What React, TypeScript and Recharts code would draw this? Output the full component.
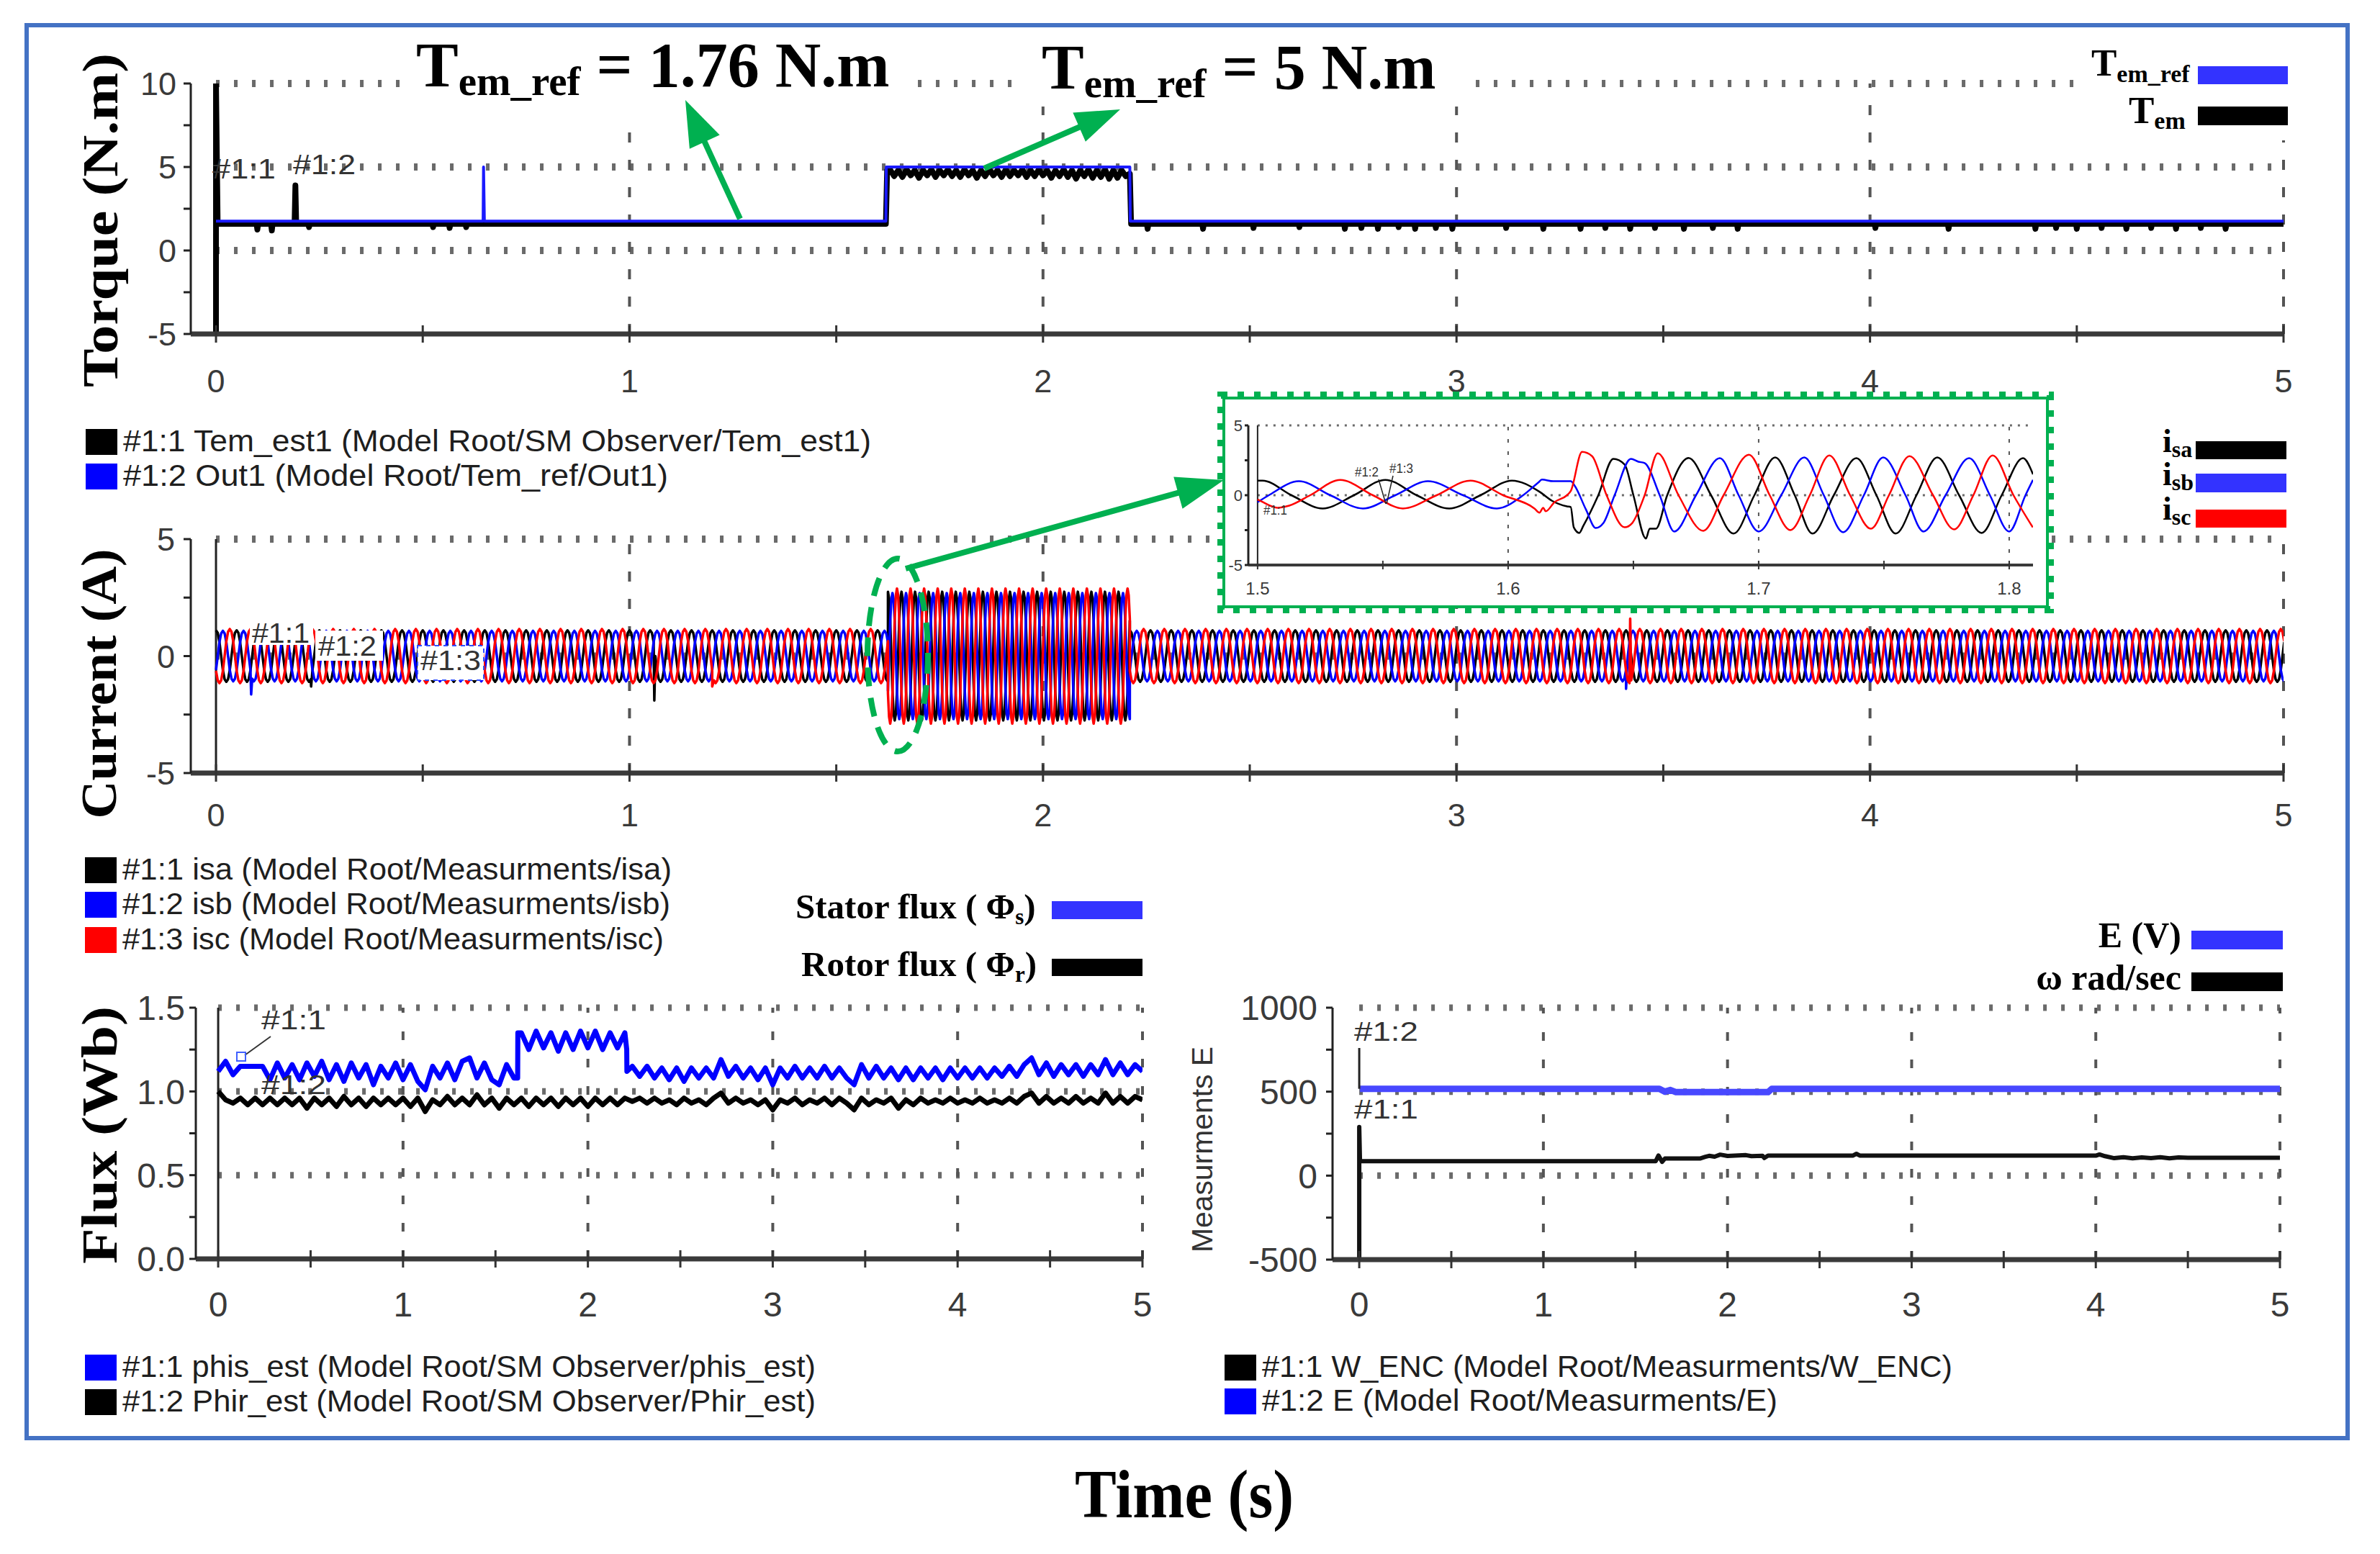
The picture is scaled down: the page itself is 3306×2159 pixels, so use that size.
import React from 'react';
import { LineChart, Line, XAxis, YAxis, ReferenceLine } from 'recharts';

const SANS = '"Liberation Sans", Arial, Helvetica, sans-serif';
const SERIF = '"Liberation Serif", "Times New Roman", Times, serif';
const GREEN = '#00B050';

// ---------------- axes ----------------
const timeTicks = [0, 0.5, 1, 1.5, 2, 2.5, 3, 3.5, 4, 4.5, 5];
const timeLabels = [0, 1, 2, 3, 4, 5];
const gridTimes = [1, 2, 3, 4, 5];
const insetTicks = [1.5, 1.55, 1.6, 1.65, 1.7, 1.75, 1.8];
const insetLabels = [1.5, 1.6, 1.7, 1.8];
const insetGridTimes = [1.6, 1.7, 1.8];
const torqueTicks = [-5, -2.5, 0, 2.5, 5, 7.5, 10];
const torqueLabels = [-5, 0, 5, 10];
const currentTicks = [-5, -2.5, 0, 2.5, 5];
const currentLabels = [-5, 0, 5];
const fluxTicks = [0, 0.25, 0.5, 0.75, 1, 1.25, 1.5];
const fluxLabels = [0, 0.5, 1, 1.5];
const measTicks = [-500, -250, 0, 250, 500, 750, 1000];
const measLabels = [-500, 0, 500, 1000];

// ---------------- torque ----------------
const temRefPts = [[0, 1.76], [0.646, 1.76], [0.647, 5], [0.649, 1.76], [1.62, 1.76], [1.621, 5], [2.21, 5], [2.211, 1.76], [5, 1.76]];
const temBasePts = [[0, -5], [0, 10], [0.004, 1.6], [1.62, 1.6], [1.623, 4.8], [2.21, 4.6], [2.213, 1.6], [5, 1.6]];
const temStepStart = 1.63;
const temStepDt = 0.01;
const temStepNoise = [
  4.85, 4.45, 4.8, 4.4, 4.85, 4.5, 4.8, 4.35, 4.8, 4.5,
  4.85, 4.4, 4.8, 4.5, 4.85, 4.45, 4.8, 4.4, 4.85, 4.5,
  4.8, 4.35, 4.8, 4.45, 4.85, 4.5, 4.8, 4.4, 4.85, 4.45,
  4.8, 4.5, 4.85, 4.4, 4.8, 4.45, 4.85, 4.5, 4.8, 4.35,
  4.8, 4.45, 4.85, 4.4, 4.8, 4.3, 4.8, 4.45, 4.85, 4.35,
  4.8, 4.4, 4.85, 4.3, 4.8, 4.35, 4.8, 4.45,
];
const temLevel = 1.6;
const temSpikes = [
  [0.1, 1.25], [0.135, 1.2], [0.192, 3.9], [0.225, 1.4], [0.525, 1.4], [0.565, 1.35], [0.605, 1.4],
  [2.253, 1.3], [2.387, 1.3], [2.509, 1.35], [2.62, 1.4], [2.73, 1.3], [2.77, 1.35], [2.81, 1.3], [2.86, 1.4],
  [2.9, 1.3], [2.95, 1.35], [2.99, 1.3], [3.12, 1.35], [3.21, 1.3], [3.3, 1.3], [3.36, 1.35], [3.42, 1.3],
  [3.48, 1.35], [3.55, 1.3], [3.62, 1.35], [3.68, 1.3], [4.013, 1.35], [4.19, 1.3], [4.4, 1.3], [4.45, 1.35],
  [4.5, 1.3], [4.56, 1.35], [4.62, 1.3], [4.68, 1.35], [4.74, 1.3], [4.8, 1.35], [4.86, 1.3],
];

// ---------------- currents (main) ----------------
const curSegStart = [0, 1.625, 2.21];
const curSegEnd = [1.625, 2.21, 5.0];
const curSegPeriod = [0.05, 0.0328, 0.05];
const curSegAmp = [1.1, 2.75, 1.1];
const waveShape = [1.0, 0.9, 0.55, 0.0, -0.55, -0.9, -1.0, -0.9, -0.55, 0.0, 0.55, 0.9];
const phaseLag = [0, 4, 8]; // isa, isb, isc
const phaseGain = [1.0, 0.98, 1.05];
const curSpikes = [[0.085, 1, -1.64], [0.23, 0, -1.3], [1.06, 0, -1.9], [1.2, 2, -1.3], [3.42, 2, 1.6], [3.41, 1, -1.4]];

// ---------------- currents (zoomed inset 1.5 .. 1.81 s) ----------------
const insetIsa = [
  [1.5, 1.04], [1.502, 1.05], [1.5135, 0.0], [1.526, -0.95], [1.5385, 0.0], [1.551, 1.1], [1.5635, 0.0],
  [1.5765, -0.95], [1.589, 0.0], [1.6015, 1.05], [1.6125, 0.25], [1.6175, -0.4], [1.6235, -0.8], [1.625, -0.85],
  [1.6262, -2.3], [1.6284, -2.7], [1.63, -2.2], [1.636, 0.0], [1.642, 2.6], [1.6465, 2.2], [1.65, 0.0],
  [1.655, -3.1], [1.6565, -2.4], [1.659, -2.4], [1.6635, 0.0], [1.672, 2.67], [1.681, 0.0], [1.69, -2.75],
  [1.6983, 0.0], [1.7066, 2.7], [1.7144, 0.0], [1.7215, -2.75], [1.73, 0.0], [1.739, 2.65], [1.747, 0.0],
  [1.7547, -2.75], [1.763, 0.0], [1.7713, 2.7], [1.78, 0.0], [1.789, -2.7], [1.797, 0.0], [1.8055, 2.65], [1.8095, 1.5],
];
const insetIsb = [
  [1.5, -0.5], [1.5045, 0.0], [1.5165, 1.0], [1.529, 0.0], [1.542, -0.95], [1.555, 0.0], [1.568, 1.0],
  [1.582, 0.0], [1.5955, -0.95], [1.606, 0.0], [1.612, 0.9], [1.6135, 1.12], [1.618, 1.0], [1.625, 1.0],
  [1.6265, 0.7], [1.631, -1.0], [1.635, -2.35], [1.638, -2.0], [1.6425, 0.0], [1.649, 2.6], [1.652, 2.4],
  [1.6545, 2.3], [1.6605, 0.0], [1.6663, -2.6], [1.675, 0.0], [1.6845, 2.65], [1.692, 0.0], [1.7, -2.6],
  [1.709, 0.0], [1.7182, 2.7], [1.726, 0.0], [1.7337, -2.65], [1.742, 0.0], [1.7497, 2.7], [1.7586, 0.0],
  [1.7658, -2.6], [1.7746, 0.0], [1.784, 2.65], [1.7923, 0.0], [1.8, -2.6], [1.8065, 0.0], [1.8095, 1.1],
];
const insetIsc = [
  [1.5, -0.3], [1.5016, -0.45], [1.508, -0.9], [1.5126, -0.75], [1.521, 0.0], [1.533, 1.1], [1.546, 0.0],
  [1.558, -0.95], [1.5715, 0.0], [1.585, 1.05], [1.598, 0.0], [1.6105, -0.95], [1.6125, -1.25], [1.614, -0.9],
  [1.615, -1.15], [1.6185, -0.5], [1.6235, 0.0], [1.625, 0.3], [1.6295, 3.1], [1.6335, 2.8], [1.6393, 0.0],
  [1.6465, -2.3], [1.6495, -2.0], [1.6545, 0.0], [1.6597, 3.0], [1.668, 0.0], [1.6779, -2.55], [1.686, 0.0],
  [1.6961, 2.9], [1.7044, 0.0], [1.7127, -2.5], [1.7204, 0.0], [1.7282, 2.85], [1.7365, 0.0], [1.7448, -2.4],
  [1.752, 0.0], [1.7602, 2.8], [1.7696, 0.0], [1.778, -2.45], [1.7857, 0.0], [1.7934, 2.85], [1.8017, 0.0], [1.8094, -2.3],
];

// ---------------- flux (samples every 0.04 s) ----------------
const fluxDt = 0.04;
const phisGrid = [
  1.12, 1.18, 1.10, 1.15, 1.15, 1.15, 1.15, 1.07, 1.17, 1.08,
  1.16, 1.07, 1.17, 1.09, 1.18, 1.07, 1.16, 1.06, 1.17, 1.08,
  1.16, 1.04, 1.15, 1.08, 1.17, 1.07, 1.16, 1.06, 1.01, 1.15,
  1.08, 1.17, 1.07, 1.18, 1.20, 1.08, 1.17, 1.07, 1.04, 1.16,
  1.08, 1.35, 1.25, 1.36, 1.26, 1.35, 1.24, 1.35, 1.25, 1.36,
  1.26, 1.36, 1.25, 1.35, 1.26, 1.35, 1.15, 1.09, 1.15, 1.08,
  1.14, 1.07, 1.14, 1.06, 1.14, 1.08, 1.14, 1.08, 1.19, 1.09,
  1.15, 1.08, 1.14, 1.07, 1.14, 1.04, 1.14, 1.08, 1.15, 1.08,
  1.14, 1.08, 1.15, 1.08, 1.14, 1.08, 1.04, 1.16, 1.08, 1.15,
  1.08, 1.14, 1.07, 1.14, 1.07, 1.14, 1.08, 1.14, 1.07, 1.14,
  1.08, 1.14, 1.08, 1.14, 1.08, 1.14, 1.09, 1.15, 1.09, 1.16,
  1.20, 1.10, 1.17, 1.09, 1.16, 1.10, 1.16, 1.09, 1.16, 1.10,
  1.19, 1.10, 1.17, 1.10, 1.16, 1.12,
];
const phisEdges = [[1.62, 1.08], [1.621, 1.35], [2.21, 1.25], [2.211, 1.12]];
const phirGrid = [
  1.00, 0.95, 0.93, 0.96, 0.92, 0.96, 0.92, 0.96, 0.92, 0.96,
  0.92, 0.96, 0.90, 0.96, 0.92, 0.96, 0.91, 0.97, 0.92, 0.96,
  0.91, 0.96, 0.92, 0.96, 0.92, 0.96, 0.91, 0.96, 0.88, 0.95,
  0.92, 0.97, 0.92, 0.96, 0.92, 0.98, 0.92, 0.96, 0.90, 0.96,
  0.92, 0.96, 0.91, 0.96, 0.92, 0.96, 0.91, 0.96, 0.92, 0.96,
  0.91, 0.96, 0.92, 0.96, 0.92, 0.96, 0.94, 0.96, 0.93, 0.96,
  0.93, 0.95, 0.92, 0.96, 0.93, 0.95, 0.92, 0.96, 0.99, 0.93,
  0.96, 0.93, 0.95, 0.92, 0.95, 0.89, 0.95, 0.93, 0.96, 0.92,
  0.95, 0.93, 0.96, 0.92, 0.96, 0.93, 0.89, 0.96, 0.92, 0.95,
  0.93, 0.96, 0.90, 0.95, 0.92, 0.96, 0.93, 0.95, 0.93, 0.96,
  0.93, 0.95, 0.93, 0.96, 0.93, 0.95, 0.93, 0.96, 0.93, 0.97,
  0.99, 0.93, 0.97, 0.93, 0.96, 0.93, 0.97, 0.93, 0.96, 0.93,
  0.99, 0.93, 0.97, 0.93, 0.97, 0.95,
];

// ---------------- measurements ----------------
const eStart = [[0, 517], [0, 760]];
const ePts = [[0.004, 517], [1.63, 517], [1.66, 500], [1.69, 510], [1.72, 497], [2.22, 497], [2.24, 517], [5, 517]];
const wPts = [
  [0, -500], [0, 290], [0.004, 86], [1.61, 86], [1.625, 120], [1.645, 82], [1.66, 102], [1.85, 102], [1.88, 112],
  [1.9, 118], [1.93, 113], [1.96, 125], [2.0, 117], [2.1, 122], [2.13, 116], [2.19, 118], [2.2, 105], [2.22, 119],
  [2.68, 119], [2.7, 130], [2.72, 119], [4.0, 119], [4.02, 126], [4.05, 116], [4.1, 104], [4.15, 110], [4.2, 103],
  [4.25, 109], [4.3, 104], [4.35, 110], [4.4, 103], [4.45, 109], [4.5, 106], [5, 106],
];

// ---------------- builders ----------------
type Pt = { t: number; v: number };
const toPts = (arr: number[][]): Pt[] => arr.map(([t, v]) => ({ t, v }));

function buildTorque(): Pt[] {
  const pts = toPts(temBasePts);
  temStepNoise.forEach((v, i) => pts.push({ t: temStepStart + temStepDt * i, v }));
  temSpikes.forEach(([t, v]) => {
    pts.push({ t: t - 0.002, v: temLevel });
    pts.push({ t, v });
    pts.push({ t: t + 0.002, v: temLevel });
  });
  pts.sort((a, b) => a.t - b.t);
  return pts;
}

function buildPhase(p: number): Pt[] {
  const pts: Pt[] = [];
  const n0 = waveShape.length;
  for (let s = 0; s < curSegStart.length; s++) {
    const dt = curSegPeriod[s] / n0;
    const n = Math.round((curSegEnd[s] - curSegStart[s]) / dt);
    for (let k = 0; k <= n; k++) {
      const idx = (k + n0 * 1000 - phaseLag[p]) % n0;
      pts.push({ t: curSegStart[s] + k * dt, v: curSegAmp[s] * phaseGain[p] * waveShape[idx] });
    }
  }
  curSpikes.filter((sp) => sp[1] === p).forEach((sp) => pts.push({ t: sp[0], v: sp[2] }));
  pts.sort((a, b) => a.t - b.t);
  return pts;
}

function buildGrid(grid: number[], edges: number[][]): Pt[] {
  const pts = grid.map((v, i) => ({ t: i * fluxDt, v }));
  edges.forEach(([t, v]) => pts.push({ t, v }));
  pts.sort((a, b) => a.t - b.t);
  return pts;
}

// ---------------- ticks ----------------
function makeXTick(labels: number[], fs: number, dy: number, len: number, sw: number, digits: number) {
  return (props: any) => {
    const { x, y, payload } = props;
    const v = payload.value as number;
    const lab = labels.some((l) => Math.abs(l - v) < 1e-9);
    return (
      <g>
        <line x1={x} x2={x} y1={y - len} y2={y + len} stroke="#333" strokeWidth={sw} />
        {lab && (
          <text x={x} y={y + dy} textAnchor="middle" fontSize={fs} fontFamily={SANS} fill="#3a3a3a">
            {v.toFixed(digits)}
          </text>
        )}
      </g>
    );
  };
}

function makeYTick(labels: number[], fs: number, fmt: (v: number) => string) {
  return (props: any) => {
    const { x, y, payload } = props;
    const v = payload.value as number;
    if (!labels.some((l) => Math.abs(l - v) < 1e-9)) return <g />;
    return (
      <text x={x} y={y + fs * 0.36} textAnchor="end" fontSize={fs} fontFamily={SANS} fill="#3a3a3a">
        {fmt(v)}
      </text>
    );
  };
}

type Box = { l: number; t: number; r: number; b: number };

function Panel(props: {
  box: Box; yw: number; xh: number; mt: number; xDomain: [number, number]; yDomain: [number, number];
  xTicks: number[]; yTicks: number[]; xTick: any; yTick: any; xAxisW: number;
  yTickSize: number; yTickMargin: number; children: React.ReactNode;
}) {
  const MT = props.mt;
  const MR = 14;
  const { box } = props;
  const width = box.r - box.l + props.yw + MR;
  const height = box.b - box.t + MT + props.xh;
  return (
    <div style={{ position: 'absolute', left: box.l - props.yw, top: box.t - MT }}>
      <LineChart width={width} height={height} margin={{ top: MT, right: MR, bottom: 0, left: 0 }}>
        <XAxis type="number" dataKey="t" domain={props.xDomain} ticks={props.xTicks} interval={0}
          tick={props.xTick} tickLine={false} tickSize={0} tickMargin={0}
          axisLine={{ stroke: '#3a3a3a', strokeWidth: props.xAxisW }} height={props.xh} allowDataOverflow />
        <YAxis type="number" domain={props.yDomain} ticks={props.yTicks} interval={0} tick={props.yTick}
          tickLine={{ stroke: '#222', strokeWidth: 3 }} tickSize={props.yTickSize} tickMargin={props.yTickMargin}
          axisLine={{ stroke: '#222', strokeWidth: 3 }} width={props.yw} allowDataOverflow />
        {props.children}
      </LineChart>
    </div>
  );
}

const hGrid = (vals: number[], x0: number, x1: number, sw: number, dash: string) =>
  vals.map((v) => (
    <ReferenceLine key={'h' + v} segment={[{ x: x0, y: v }, { x: x1, y: v }]} stroke="#6a6a6a" strokeWidth={sw} strokeDasharray={dash} />
  ));
const vGrid = (vals: number[], y0: number, y1: number, sw: number, dash: string) =>
  vals.map((v) => (
    <ReferenceLine key={'v' + v} segment={[{ x: v, y: y0 }, { x: v, y: y1 }]} stroke="#555" strokeWidth={sw} strokeDasharray={dash} />
  ));

const series = (key: string, data: Pt[], color: string, w: number, type: any = 'linear') => (
  <Line key={key} data={data.map((p) => ({ t: p.t, [key]: p.v }))} dataKey={key} type={type} stroke={color}
    strokeWidth={w} dot={false} activeDot={false} isAnimationActive={false} strokeLinejoin="round" />
);

function Arrow({ x1, y1, x2, y2, head = 64, hw = 46, w = 8 }: any) {
  const dx = x2 - x1;
  const dy = y2 - y1;
  const L = Math.hypot(dx, dy);
  const ux = dx / L;
  const uy = dy / L;
  const bx = x2 - ux * head;
  const by = y2 - uy * head;
  const px = -uy;
  const py = ux;
  return (
    <g>
      <line x1={x1} y1={y1} x2={bx + ux * 6} y2={by + uy * 6} stroke={GREEN} strokeWidth={w} />
      <polygon points={`${x2},${y2} ${bx + (px * hw) / 2},${by + (py * hw) / 2} ${bx - (px * hw) / 2},${by - (py * hw) / 2}`} fill={GREEN} />
    </g>
  );
}

function LegendRow({ x, y, color, text, len }: any) {
  return (
    <g>
      <rect x={x} y={y} width={44} height={36} fill={color} />
      <text x={x + 52} y={y + 31} fontSize={42} fontFamily={SANS} fill="#1e1e1e" textLength={len} lengthAdjust="spacingAndGlyphs">
        {text}
      </text>
    </g>
  );
}

function Tag({ x, y, text, len, fs = 38 }: any) {
  return (
    <text x={x} y={y} fontSize={fs} fontFamily={SANS} fill="#333" textLength={len} lengthAdjust="spacingAndGlyphs">
      {text}
    </text>
  );
}

export default function App() {
  const temRef = toPts(temRefPts);
  const tem = buildTorque();
  const isa = buildPhase(0);
  const isb = buildPhase(1);
  const isc = buildPhase(2);
  const phis = buildGrid(phisGrid, phisEdges);
  const phir = buildGrid(phirGrid, []);

  const topBox: Box = { l: 265, t: 116, r: 3172, b: 464 };
  const curBox: Box = { l: 265, t: 749, r: 3172, b: 1074 };
  const insBox: Box = { l: 1734, t: 591, r: 2824, b: 785 };
  const fluxBox: Box = { l: 272, t: 1400, r: 1587, b: 1749 };
  const measBox: Box = { l: 1851, t: 1400, r: 3167, b: 1750 };

  const svgBase: React.CSSProperties = { position: 'absolute', left: 0, top: 0, pointerEvents: 'none' };
  const bold = { fontFamily: SERIF, fontWeight: 'bold' as const, fill: '#000' };

  return (
    <div style={{ position: 'absolute', left: 0, top: 0, width: 3306, height: 2159, background: '#fff', overflow: 'hidden' }}>
      {/* Torque */}
      <Panel box={topBox} yw={150} xh={110} mt={34} xDomain={[-0.061, 5]} yDomain={[-5, 10]} xTicks={timeTicks} yTicks={torqueTicks}
        xTick={makeXTick(timeLabels, 45, 81, 12, 3, 0)} yTick={makeYTick(torqueLabels, 45, (v) => String(v))}
        xAxisW={7} yTickSize={10} yTickMargin={10}>
        {hGrid([10, 5, 0], 0, 5, 10, '5 20')}
        {vGrid(gridTimes, -5, 10, 4, '14 24')}
        {series('tem', tem, '#000', 8)}
        {series('temref', temRef, '#1a1aff', 4)}
      </Panel>

      {/* Currents */}
      <Panel box={curBox} yw={150} xh={110} mt={34} xDomain={[-0.061, 5]} yDomain={[-5, 5]} xTicks={timeTicks} yTicks={currentTicks}
        xTick={makeXTick(timeLabels, 45, 74, 12, 3, 0)} yTick={makeYTick(currentLabels, 45, (v) => String(v))}
        xAxisW={7} yTickSize={10} yTickMargin={12}>
        {hGrid([5, 0], 0, 5, 10, '5 20')}
        {vGrid(gridTimes, -5, 5, 4, '14 24')}
        <ReferenceLine x={0} stroke="#222" strokeWidth={3} />
        {series('isa', isa, '#000', 3.5)}
        {series('isb', isb, '#0000ff', 3.5)}
        {series('isc', isc, '#ff0000', 3.5)}
      </Panel>

      {/* Flux */}
      <Panel box={fluxBox} yw={150} xh={110} mt={34} xDomain={[-0.121, 5]} yDomain={[0, 1.5]} xTicks={timeTicks} yTicks={fluxTicks}
        xTick={makeXTick(timeLabels, 48, 80, 12, 3, 0)} yTick={makeYTick(fluxLabels, 48, (v) => v.toFixed(1))}
        xAxisW={7} yTickSize={9} yTickMargin={6}>
        {hGrid([1.5, 1, 0.5], 0, 5, 9, '5 20')}
        {vGrid(gridTimes, 0, 1.5, 4, '12 26')}
        <ReferenceLine x={0} stroke="#222" strokeWidth={3} />
        {series('phir', phir, '#000', 7)}
        {series('phis', phis, '#0000ff', 7)}
      </Panel>

      {/* Measurements */}
      <Panel box={measBox} yw={150} xh={110} mt={34} xDomain={[-0.145, 5]} yDomain={[-500, 1000]} xTicks={timeTicks} yTicks={measTicks}
        xTick={makeXTick(timeLabels, 48, 79, 12, 3, 0)} yTick={makeYTick(measLabels, 48, (v) => String(v))}
        xAxisW={7} yTickSize={9} yTickMargin={12}>
        {hGrid([1000, 500, 0], 0, 5, 9, '5 20')}
        {vGrid(gridTimes, -500, 1000, 4, '12 26')}
        {series('w', toPts(wPts), '#111', 6)}
        {series('e', toPts(ePts), '#4848ff', 9)}
        {series('e0', toPts(eStart), '#222', 3)}
      </Panel>

      {/* inset background box */}
      <svg width={3306} height={2159} style={svgBase}>
        <rect x={1700} y={553} width={1144} height={290} fill="#fff" stroke={GREEN} strokeWidth={4} />
        <rect x={1696} y={549} width={1152} height={298} fill="none" stroke={GREEN} strokeWidth={10} strokeDasharray="9 14" />
      </svg>

      {/* Inset */}
      <Panel box={insBox} yw={40} xh={50} mt={14} xDomain={[1.4963, 1.8095]} yDomain={[-5, 5]} xTicks={insetTicks} yTicks={currentTicks}
        xTick={makeXTick(insetLabels, 24, 41, 6, 2, 1)} yTick={makeYTick(currentLabels, 22, (v) => String(v))}
        xAxisW={4} yTickSize={5} yTickMargin={3}>
        {hGrid([5, 0], 1.5, 1.8095, 3, '3 8')}
        {vGrid(insetGridTimes, -5, 5, 2, '5 12')}
        <ReferenceLine x={1.5} stroke="#222" strokeWidth={2} />
        {series('ia', toPts(insetIsa), '#000', 2.5, 'monotone')}
        {series('ib', toPts(insetIsb), '#0000ff', 2.5, 'monotone')}
        {series('ic', toPts(insetIsc), '#ff0000', 2.5, 'monotone')}
      </Panel>

      {/* overlay */}
      <svg width={3306} height={2159} style={svgBase}>
        {/* white text backgrounds in torque plot */}
        <rect x={555} y={48} width={713} height={112} fill="#fff" />
        <rect x={1425} y={48} width={614} height={100} fill="#fff" />
        <rect x={2893} y={60} width={300} height={135} fill="#fff" />

        {/* annotations */}
        <text x={578} y={120} fontSize={88} {...bold}>
          T<tspan fontSize={57} dy={12}>em_ref</tspan><tspan dy={-12}>{' = 1.76 N.m'}</tspan>
        </text>
        <text x={1447} y={123} fontSize={88} {...bold}>
          T<tspan fontSize={57} dy={12}>em_ref</tspan><tspan dy={-12}>{' = 5 N.m'}</tspan>
        </text>
        <Arrow x1={1028} y1={304} x2={952} y2={139} head={64} hw={46} />
        <Arrow x1={1367} y1={234} x2={1556} y2={152} head={62} hw={44} />
        <Arrow x1={1258} y1={790} x2={1700} y2={667} head={66} hw={46} />
        <ellipse cx={1247} cy={910} rx={42} ry={134} fill="none" stroke={GREEN} strokeWidth={8} strokeDasharray="26 16" />

        {/* right-side legends */}
        <text x={2905} y={105} fontSize={53} {...bold}>T<tspan fontSize={34} dy={9}>em_ref</tspan></text>
        <rect x={3053} y={92} width={125} height={25} fill="#3333ff" />
        <text x={2957} y={171} fontSize={53} {...bold}>T<tspan fontSize={34} dy={8}>em</tspan></text>
        <rect x={3053} y={148} width={125} height={26} fill="#000" />

        <text x={3004} y={628} fontSize={46} {...bold}>i<tspan fontSize={32} dy={7}>sa</tspan></text>
        <rect x={3050} y={613} width={126} height={25} fill="#000" />
        <text x={3004} y={674} fontSize={46} {...bold}>i<tspan fontSize={32} dy={7}>sb</tspan></text>
        <rect x={3050} y={658} width={126} height={26} fill="#3333ff" />
        <text x={3004} y={722} fontSize={46} {...bold}>i<tspan fontSize={32} dy={7}>sc</tspan></text>
        <rect x={3050} y={708} width={126} height={25} fill="#ff0000" />

        <text x={1105} y={1276} fontSize={49} {...bold}>{'Stator flux ( Φ'}<tspan fontSize={31} dy={8}>s</tspan><tspan dy={-8}>)</tspan></text>
        <rect x={1461} y={1252} width={126} height={25} fill="#3333ff" />
        <text x={1113} y={1356} fontSize={49} {...bold}>{'Rotor flux ( Φ'}<tspan fontSize={31} dy={8}>r</tspan><tspan dy={-8}>)</tspan></text>
        <rect x={1461} y={1332} width={126} height={24} fill="#000" />

        <text x={3030} y={1316} fontSize={50} textAnchor="end" {...bold}>E (V)</text>
        <rect x={3044} y={1293} width={127} height={26} fill="#3333ff" />
        <text x={3030} y={1375} fontSize={50} textAnchor="end" {...bold}>ω rad/sec</text>
        <rect x={3044} y={1351} width={127} height={26} fill="#000" />

        {/* bottom legends */}
        <LegendRow x={119} y={596} color="#000" text="#1:1 Tem_est1 (Model Root/SM Observer/Tem_est1)" len={1039} />
        <LegendRow x={119} y={644} color="#0000ff" text="#1:2 Out1 (Model Root/Tem_ref/Out1)" len={757} />
        <LegendRow x={118} y={1191} color="#000" text="#1:1 isa (Model Root/Measurments/isa)" len={763} />
        <LegendRow x={118} y={1239} color="#0000ff" text="#1:2 isb (Model Root/Measurments/isb)" len={761} />
        <LegendRow x={118} y={1288} color="#ff0000" text="#1:3 isc (Model Root/Measurments/isc)" len={752} />
        <LegendRow x={118} y={1882} color="#0000ff" text="#1:1 phis_est (Model Root/SM Observer/phis_est)" len={963} />
        <LegendRow x={118} y={1930} color="#000" text="#1:2 Phir_est (Model Root/SM Observer/Phir_est)" len={963} />
        <LegendRow x={1701} y={1882} color="#000" text="#1:1 W_ENC (Model Root/Measurments/W_ENC)" len={959} />
        <LegendRow x={1701} y={1929} color="#0000ff" text="#1:2 E (Model Root/Measurments/E)" len={716} />

        {/* trace labels */}
        <Tag x={295} y={248} text="#1:1" len={88} />
        <Tag x={407} y={242} text="#1:2" len={87} />
        <rect x={347} y={864} width={88} height={32} fill="#fff" />
        <rect x={438} y={876} width={94} height={42} fill="#fff" />
        <rect x={580} y={897} width={92} height={48} fill="#fff" stroke="#3050ff" strokeWidth={2} strokeDasharray="6 6" />
        <Tag x={350} y={893} text="#1:1" len={80} />
        <Tag x={442} y={911} text="#1:2" len={81} />
        <Tag x={584} y={931} text="#1:3" len={84} />
        <Tag x={1882} y={662} text="#1:2" len={33} fs={19} />
        <Tag x={1930} y={657} text="#1:3" len={33} fs={19} />
        <Tag x={1755} y={715} text="#1:1" len={33} fs={19} />
        <line x1={1915} y1={666} x2={1925} y2={700} stroke="#222" strokeWidth={1.5} />
        <line x1={1935} y1={661} x2={1926} y2={700} stroke="#222" strokeWidth={1.5} />
        <Tag x={363} y={1430} text="#1:1" len={90} fs={36} />
        <Tag x={363} y={1520} text="#1:2" len={90} fs={36} />
        <Tag x={1881} y={1446} text="#1:2" len={89} fs={36} />
        <Tag x={1881} y={1554} text="#1:1" len={89} fs={36} />
        <line x1={376} y1={1440} x2={340} y2={1466} stroke="#333" strokeWidth={2} />
        <rect x={329} y={1462} width={12} height={12} fill="none" stroke="#4060ff" strokeWidth={2} />

        {/* axis titles */}
        <text transform="translate(163,306) rotate(-90)" textAnchor="middle" fontSize={70} textLength={464} lengthAdjust="spacingAndGlyphs" {...bold}>Torque (N.m)</text>
        <text transform="translate(161,950) rotate(-90)" textAnchor="middle" fontSize={70} textLength={375} lengthAdjust="spacingAndGlyphs" {...bold}>Current (A)</text>
        <text transform="translate(162,1577) rotate(-90)" textAnchor="middle" fontSize={70} textLength={358} lengthAdjust="spacingAndGlyphs" {...bold}>Flux (Wb)</text>
        <text transform="translate(1684,1597) rotate(-90)" textAnchor="middle" fontSize={41} textLength={286} lengthAdjust="spacingAndGlyphs" fontFamily={SANS} fill="#333">Measurments E</text>
        <text x={1645} y={2108} textAnchor="middle" fontSize={95} textLength={304} lengthAdjust="spacingAndGlyphs" {...bold}>Time (s)</text>

        {/* frame */}
        <rect x={37} y={35} width={3224} height={1963} fill="none" stroke="#4472C4" strokeWidth={6} />
      </svg>
    </div>
  );
}
